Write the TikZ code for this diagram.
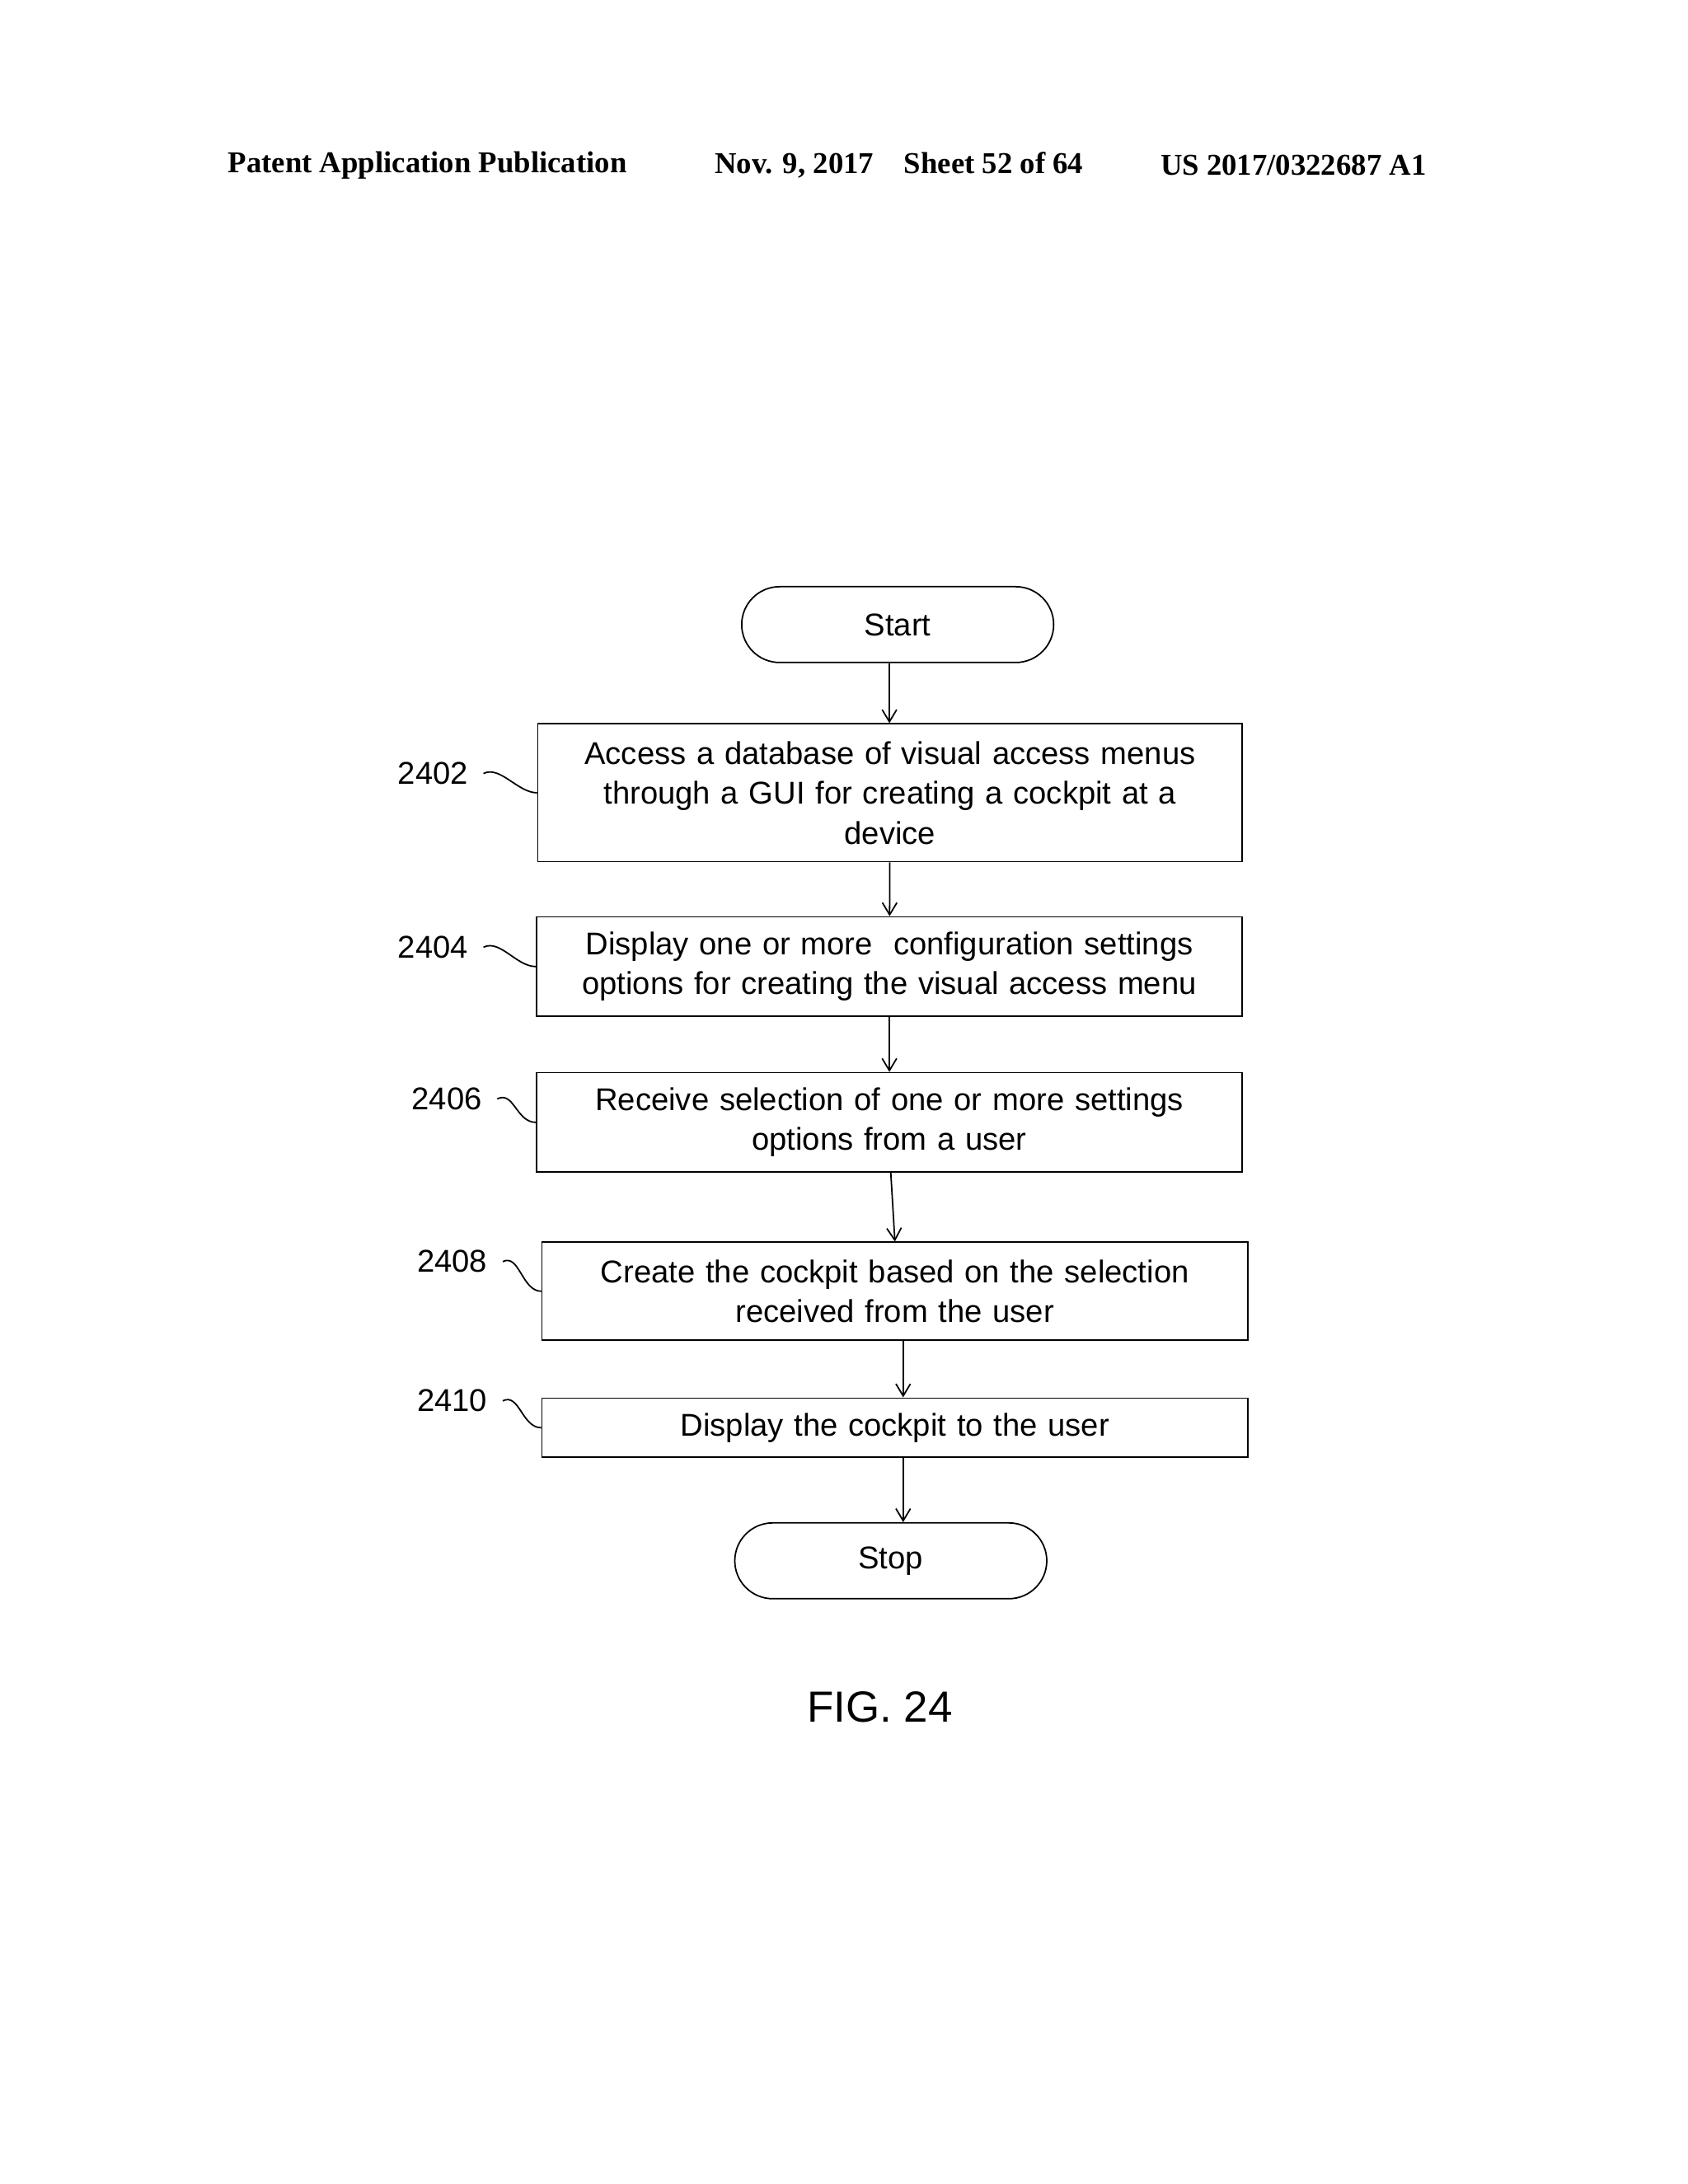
\documentclass[tikz,border=0pt]{standalone}
\usepackage{fontspec}
\setmainfont{Liberation Sans}
\newfontfamily\hdrfont{Liberation Serif}
\usetikzlibrary{arrows.meta,shapes.misc,positioning}
\tikzset{
	x=0.02cm, y=-0.02cm,
	>={Straight Barb[length=5pt,width=6pt]},
	stage/.style = {
			draw, line width=0.6pt, align=center, inner sep=2pt,
			font=\fontsize{13}{16.5}\selectfont,
		},
	term/.style = {
			draw, line width=0.6pt, rounded rectangle, minimum width=4.76cm,
			minimum height=1.1cm, font=\fontsize{13}{16}\selectfont,
		},
	ref/.style = {font=\fontsize{13}{16}\selectfont},
	flow/.style = {->, line width=0.6pt},
}
\begin{document}
\begin{tikzpicture}
	\useasboundingbox (0,0) rectangle (1224,1584);
	% header
	\node[font=\hdrfont\bfseries\fontsize{12.5}{14}\selectfont] (h1) at (310,120) {Patent Application Publication};
	\node[font=\hdrfont\bfseries\fontsize{12.5}{14}\selectfont] (h2) at (652,120) {Nov. 9, 2017\quad Sheet 52 of 64};
	\node[font=\hdrfont\bfseries\fontsize{12.5}{14}\selectfont] (h3) at (938,120) {US 2017/0322687 A1};
	% flow
	\node[term] (start) at (651,453) {Start};
	\node[stage, minimum width=10.22cm, minimum height=2cm, text width=10cm] (b1) at (645.5,575) {Access a database of visual access menus\\ through a GUI for creating a cockpit at a\\ device};
	\node[stage, minimum width=10.24cm, minimum height=1.44cm, text width=10cm] (b2) at (645,701) {Display one or more \ configuration settings\\ options for creating the visual access menu};
	\node[stage, minimum width=10.24cm, minimum height=1.44cm, text width=10cm] (b3) at (645,814) {Receive selection of one or more settings\\ options from a user};
	\node[stage, minimum width=10.24cm, minimum height=1.42cm, text width=10cm] (b4) at (649,936.5) {Create the cockpit based on the selection\\ received from the user};
	\node[stage, minimum width=10.24cm, minimum height=0.86cm, text width=10cm] (b5) at (649,1035.5) {Display the cockpit to the user};
	\node[term] (stop) at (646,1132) {Stop};
	\node[font=\fontsize{18}{20}\selectfont] (fig) at (638,1238) {FIG. 24};
	% arrows
	\draw[flow] (start.south -| 645,0) -- (b1.north -| 645,0);
	\draw[flow] (b1) -- (b2);
	\draw[flow] (b2) -- (b3);
	\draw[flow] (b3.south -| 646,0) -- (b4.north);
	\draw[flow] (b4.south -| 655,0) -- (b5.north -| 655,0);
	\draw[flow] (b5.south -| 655,0) -- (stop.north -| 655,0);
	% reference numerals
	\node[ref] (l1) at (314,561) {2402};
	\node[ref] (l2) at (314,687) {2404};
	\node[ref] (l3) at (324,797) {2406};
	\node[ref] (l4) at (328,915) {2408};
	\node[ref] (l5) at (328,1016) {2410};
	\foreach \l/\b in {l1/b1,l2/b2,l3/b3,l4/b4,l5/b5}
		\draw[line width=0.6pt] ([xshift=0.1cm]\l.east) .. controls +(12,-6) and +(-14,0) .. (\b.west);
\end{tikzpicture}
\end{document}
